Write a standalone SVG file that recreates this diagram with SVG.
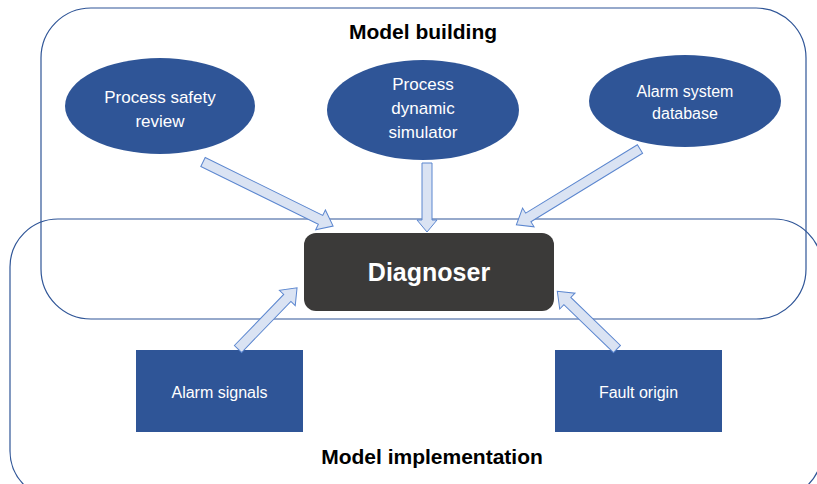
<svg xmlns="http://www.w3.org/2000/svg" width="817" height="484" viewBox="0 0 817 484">
<defs>
<style>
.region{fill:none;stroke:#2f5597;stroke-width:1.2}
.ell{fill:#2f5597}
.box{fill:#2f5597}
.t{font-family:"Liberation Sans",Arial,sans-serif;fill:#fff;text-anchor:middle}
.title{font-family:"Liberation Sans",Arial,sans-serif;font-weight:bold;font-size:21px;fill:#000;text-anchor:middle}
.arr{fill:#dae3f3;stroke:#5b86cf;stroke-width:1}
</style>
</defs>
<rect width="817" height="484" fill="#fff"/>
<g id="model-building">
<rect class="region" x="41" y="8" width="765" height="311" rx="50" ry="50"/>
<text class="title" x="423" y="39">Model building</text>
</g>
<g id="model-implementation">
<rect class="region" x="10" y="219" width="812" height="280" rx="48" ry="48"/>
<text class="title" x="432" y="464">Model implementation</text>
</g>
<g id="process-safety-review">
<ellipse class="ell" cx="160" cy="106" rx="95" ry="48"/>
<text class="t" font-size="17" x="160" y="103">Process safety</text>
<text class="t" font-size="17" x="160" y="127">review</text>
</g>
<g id="process-dynamic-simulator">
<ellipse class="ell" cx="423" cy="110" rx="96" ry="50"/>
<text class="t" font-size="17" x="423" y="90">Process</text>
<text class="t" font-size="17" x="423" y="114">dynamic</text>
<text class="t" font-size="17" x="423" y="138">simulator</text>
</g>
<g id="alarm-system-database">
<ellipse class="ell" cx="685" cy="101" rx="96" ry="46"/>
<text class="t" font-size="16" x="685" y="97">Alarm system</text>
<text class="t" font-size="16" x="685" y="119">database</text>
</g>
<g id="diagnoser">
<rect x="304" y="233" width="250" height="78" rx="12" ry="12" fill="#3b3a39"/>
<text class="t" font-size="25" font-weight="bold" x="429" y="281">Diagnoser</text>
</g>
<g id="alarm-signals">
<rect class="box" x="136" y="350" width="167" height="82"/>
<text class="t" font-size="16" x="219.5" y="398">Alarm signals</text>
</g>
<g id="fault-origin">
<rect class="box" x="555" y="350" width="167" height="82"/>
<text class="t" font-size="16" x="638.5" y="398">Fault origin</text>
</g>
<g id="connectors">
<polygon class="arr" transform="translate(203,162) rotate(26.2)" points="0,-5 131,-5 131,-11 145,0 131,11 131,5 0,5"/>
<polygon class="arr" transform="translate(427,163) rotate(90)" points="0,-5 57,-5 57,-10 69,0 57,10 57,5 0,5"/>
<polygon class="arr" transform="translate(640,149) rotate(148.5)" points="0,-5 131,-5 131,-11 145,0 131,11 131,5 0,5"/>
<polygon class="arr" transform="translate(238,349) rotate(-46)" points="0,-5 71,-5 71,-11 85,0 71,11 71,5 0,5"/>
<polygon class="arr" transform="translate(617,349) rotate(-136)" points="0,-5 69,-5 69,-11 83,0 69,11 69,5 0,5"/>
</g>
</svg>
